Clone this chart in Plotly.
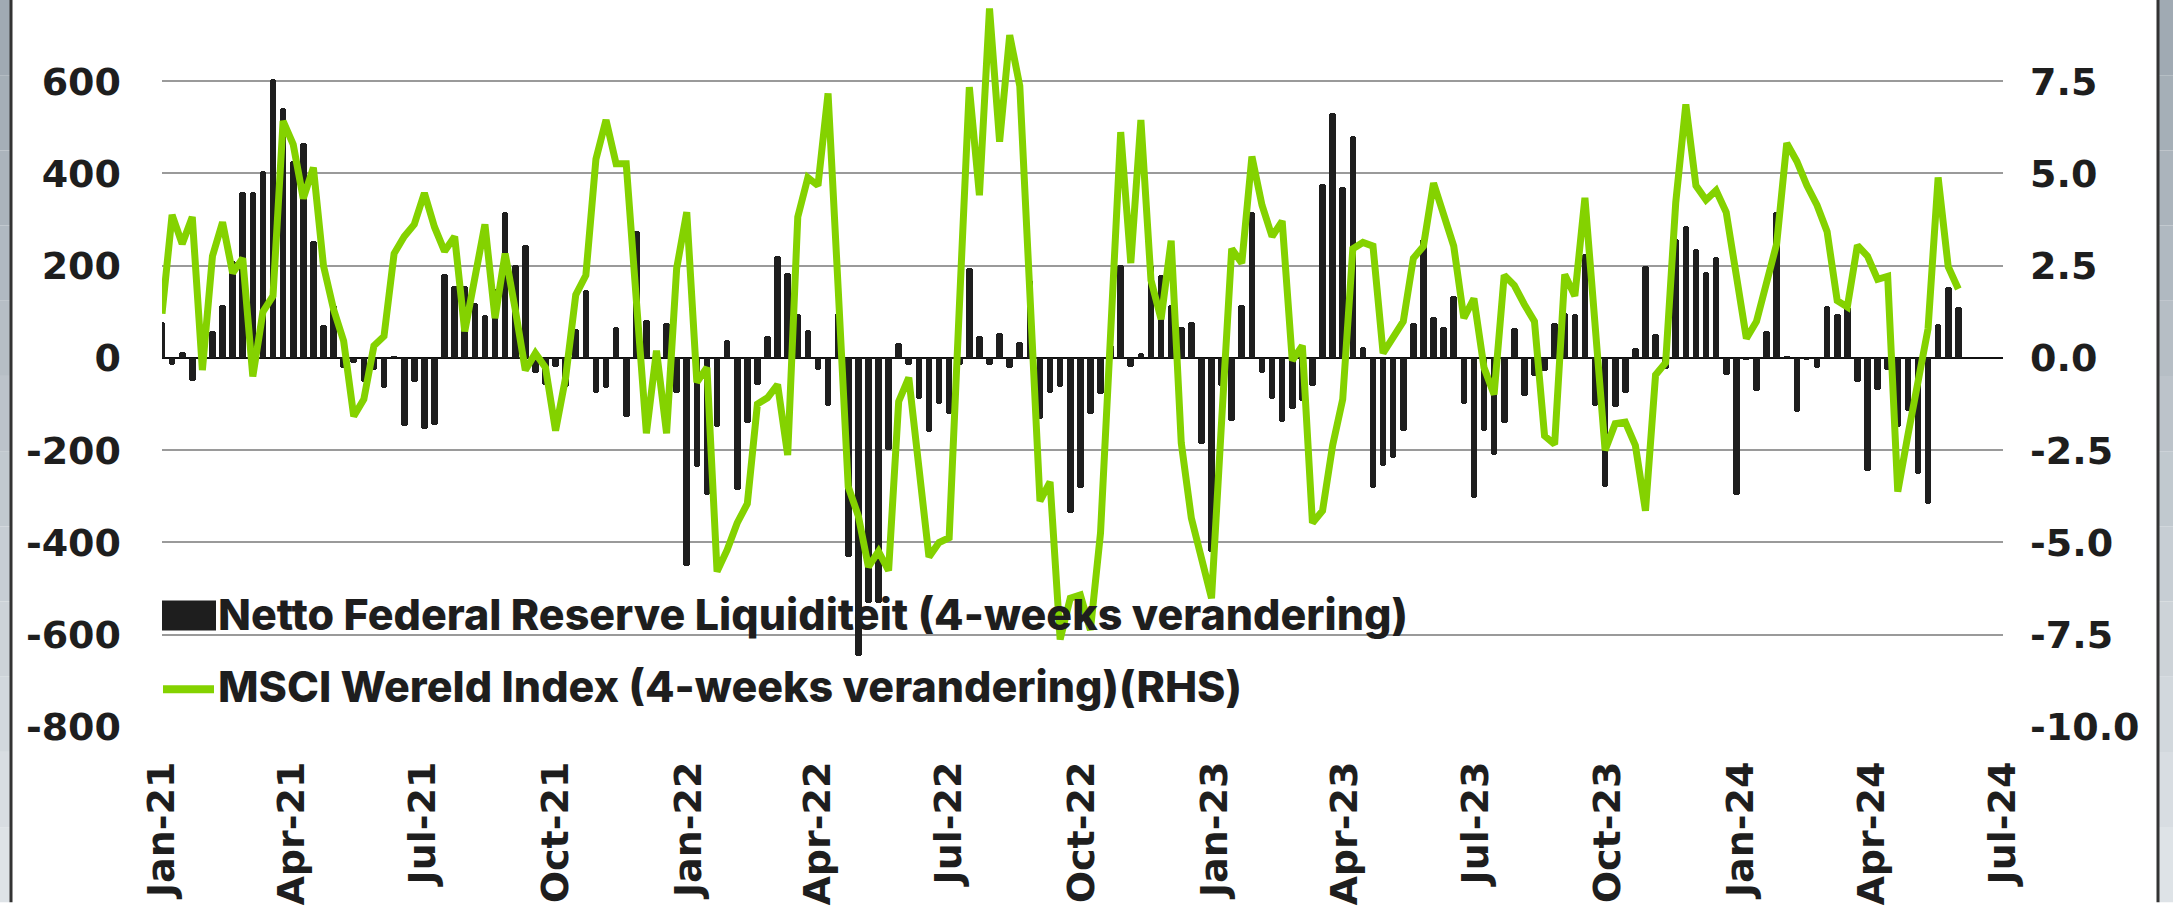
import pandas as pd
import plotly.graph_objects as go

# ---------------- data ----------------
start_date = "2021-01-01"

liquidity = [
    79, -16, 14, -49, 5, 58, 114, 210, 360, 360, 405, 605, 542, 426, 465, 253,
    72, 114, -21, -10, -53, -26, -65, 3, -147, -53, -153, -145, 181, 156, 156,
    120, 93, 150, 316, 202, 244, -32, -58, -20, -63, 63, 147, -76, -65, 68,
    -128, 276, 82, -10, 76, -76, -450, -237, -297, -150, 40, -286, -142, -58, 47, 221,
    184, 95, 60, -26, -105, 97, -432, -647, -532, -532, -200, 32, -16, -89, -161,
    -100, -121, -16, 195, 47, -16, 55, -21, 34, 168, -132, -76, -63, -337, -282, -121,
    -79, 29, 202, -19, 10, 202, 180, 114, 68, 79, -187, -421, -60, -137, 114, 316,
    -32, -89, -139, -110, -93, -61, 377, 532, 371, 481, 23, -282, -234, -216, -158,
    76, 258, 89, 68, 135, -100, -303, -158, -211, -142, 65, -82, -40, -29, 76, 97,
    95, 226, -105, -279, -107, -76, 21, 200, 53, -23, 258, 286, 237, 187, 219,
    -37, -297, -5, -72, 58, 316, 5, -118, -5, -21, 113, 95, 110, -53, -244, -69,
    -26, -149, -114, -251, -316, 74, 153, 110,
]

msci = [
    1.2, 3.88, 3.09, 3.82, -0.33, 2.76, 3.68, 2.30, 2.70, -0.50, 1.25, 1.68, 6.42,
    5.79, 4.32, 5.16, 2.50, 1.32, 0.46, -1.58, -1.12, 0.33, 0.59, 2.83, 3.29, 3.62,
    4.47, 3.55, 2.89, 3.29, 0.72,
    2.2, 3.62, 1.08, 2.83, 1.32, -0.33, 0.13, -0.26, -1.97, -0.53, 1.71, 2.24, 5.39,
    6.45, 5.26, 5.26, 1.58, -2.04, 0.20, -2.04, 2.43, 3.95, -0.66, -0.26, -5.79,
    -5.20, -4.47, -3.95, -1.25, -1.08, -0.72,
    -2.63, 3.82, 4.89, 4.67, 7.17, 1.9, -3.49, -4.28, -5.66, -5.24, -5.76, -1.18,
    -0.53, -2.96, -5.39, -5.0, -4.87, 1.32, 7.34, 4.41, 9.47, 5.86, 8.75, 7.37, 1.84,
    -3.88, -3.36, -7.63, -6.51, -6.42, -7.37,
    -4.74, 0.66, 6.12, 2.57, 6.45, 2.11, 1.05, 3.18, -2.30, -4.34, -5.46, -6.51,
    -1.71, 2.96, 2.57, 5.46, 4.14, 3.29, 3.71, -0.07, 0.33, -4.47, -4.14, -2.37,
    -1.12, 2.96, 3.13, 3.03, 0.13, 0.53, 0.99,
    2.70, 3.03, 4.74, 3.88, 3.03, 1.08, 1.61, -0.26, -0.99, 2.24, 1.97, 1.45, 0.99,
    -2.11, -2.34, 2.26, 1.68, 4.34, 0.92, -2.50, -1.78, -1.74, -2.37, -4.14, -0.46,
    -0.13, 4.21, 6.87, 4.67, 4.28, 4.54,
    3.95, 2.24, 0.53, 0.99, 1.97, 3.09, 5.82, 5.33, 4.67, 4.14, 3.42, 1.55, 1.38,
    3.05, 2.76, 2.13, 2.21, -3.62, -2.1, -0.66, 0.79, 4.89, 2.47, 1.87,
]

bar_name = "Netto Federal Reserve Liquiditeit (4-weeks verandering)"
line_name = "MSCI Wereld Index (4-weeks verandering)(RHS)"

x_tickvals = pd.date_range("2021-01-01", "2024-07-01", freq="3MS")
x_ticktext = [d.strftime("%b-%y") for d in x_tickvals]

y_tickvals = [-800, -600, -400, -200, 0, 200, 400, 600]
y_ticktext = ["-800", "-600", "-400", "-200", "0", "200", "400", "600"]

y2_tickvals = [-10.0, -7.5, -5.0, -2.5, 0.0, 2.5, 5.0, 7.5]
y2_ticktext = ["-10.0", "-7.5", "-5.0", "-2.5", "0.0", "2.5", "5.0", "7.5"]

dates = pd.date_range(start_date, periods=len(liquidity), freq="7D")

# ---------------- styles ----------------
BAR_COLOR = "#1e1e1e"
LINE_COLOR = "#84d200"
TEXT_COLOR = "#1e1e1e"
TICK_FONT = dict(family="DejaVu Sans", size=38, color=TEXT_COLOR, weight="bold")
XTICK_FONT = dict(family="DejaVu Sans", size=38, color=TEXT_COLOR, weight="bold")
LEG_FONT = dict(family="Inter", size=43, color=TEXT_COLOR, weight=800)

W, H = 2173, 906
ML, MR, MT, MB = 162, 170, 0, 176
PW = W - ML - MR
PH = H - MT - MB


def px_x(px):
    return (px - ML) / PW


def px_y(py):
    return (H - MB - py) / PH


fig = go.Figure()
fig.add_trace(go.Bar(
    x=dates, y=liquidity, name=bar_name,
    marker=dict(color=BAR_COLOR, line=dict(width=0), cornerradius=3),
    width=4.6 * 86400000, yaxis="y", showlegend=False,
))
fig.add_trace(go.Scatter(
    x=dates, y=msci, name=line_name, mode="lines",
    line=dict(color=LINE_COLOR, width=7), yaxis="y2", showlegend=False,
))

shapes = []
# frame of the screenshot: grey gradient strips with dark edge lines
n_seg = 12
top_rgb = (160, 170, 179)
bot_rgb = (222, 227, 231)
for i in range(n_seg):
    t = i / (n_seg - 1)
    col = "rgb(%d,%d,%d)" % tuple(int(a + (b - a) * t) for a, b in zip(top_rgb, bot_rgb))
    y0 = px_y(H * (i + 1) / n_seg)
    y1 = px_y(H * i / n_seg)
    shapes.append(dict(type="rect", xref="paper", yref="paper", x0=px_x(0), x1=px_x(10),
                       y0=y0, y1=y1, fillcolor=col, line=dict(width=0), layer="above"))
    shapes.append(dict(type="rect", xref="paper", yref="paper", x0=px_x(2159), x1=px_x(2173),
                       y0=y0, y1=y1, fillcolor=col, line=dict(width=0), layer="above"))
shapes.append(dict(type="line", xref="paper", yref="paper", x0=px_x(11), x1=px_x(11),
                   y0=px_y(H), y1=px_y(0), line=dict(color="#333333", width=3)))
shapes.append(dict(type="line", xref="paper", yref="paper", x0=px_x(2158), x1=px_x(2158),
                   y0=px_y(H), y1=px_y(0), line=dict(color="#333333", width=3)))

# legend symbols
shapes.append(dict(type="rect", xref="paper", yref="paper", x0=px_x(162), x1=px_x(216),
                   y0=px_y(633), y1=px_y(603), fillcolor=BAR_COLOR, line=dict(width=0),
                   layer="above"))
shapes.append(dict(type="line", xref="paper", yref="paper", x0=px_x(163), x1=px_x(214),
                   y0=px_y(692), y1=px_y(692), line=dict(color=LINE_COLOR, width=8),
                   layer="above"))

annotations = [
    dict(text=bar_name, xref="paper", yref="paper", x=px_x(216), y=px_y(617),
         xanchor="left", yanchor="middle", showarrow=False, font=LEG_FONT),
    dict(text=line_name, xref="paper", yref="paper", x=px_x(216), y=px_y(689),
         xanchor="left", yanchor="middle", showarrow=False, font=LEG_FONT),
]

fig.update_layout(
    width=W, height=H,
    margin=dict(l=ML, r=MR, t=MT, b=MB, pad=0),
    paper_bgcolor="white", plot_bgcolor="white",
    bargap=0, showlegend=False,
    shapes=shapes, annotations=annotations,
    xaxis=dict(
        type="date", range=["2021-01-01", "2024-07-01"],
        tickvals=list(x_tickvals), ticktext=x_ticktext, tickangle=-90,
        tickfont=XTICK_FONT, showgrid=False, zeroline=False, showline=False,
        ticks="", ticklabelstandoff=26,
    ),
    yaxis=dict(
        range=[-800, 776], tickvals=y_tickvals, ticktext=y_ticktext,
        tickfont=TICK_FONT, showgrid=True, gridcolor="#9a9a9a", gridwidth=1.5,
        zeroline=True, zerolinecolor="#111111", zerolinewidth=2,
        showline=False, ticks="", ticklabelstandoff=40,
    ),
    yaxis2=dict(
        overlaying="y", side="right", range=[-10, 9.7],
        tickvals=y2_tickvals, ticktext=y2_ticktext, tickfont=TICK_FONT,
        showgrid=False, zeroline=False, showline=False, ticks="",
        ticklabelstandoff=26,
    ),
)

fig.write_html("out.html", config={"displayModeBar": False},
               post_script="document.body.style.margin='0';")
